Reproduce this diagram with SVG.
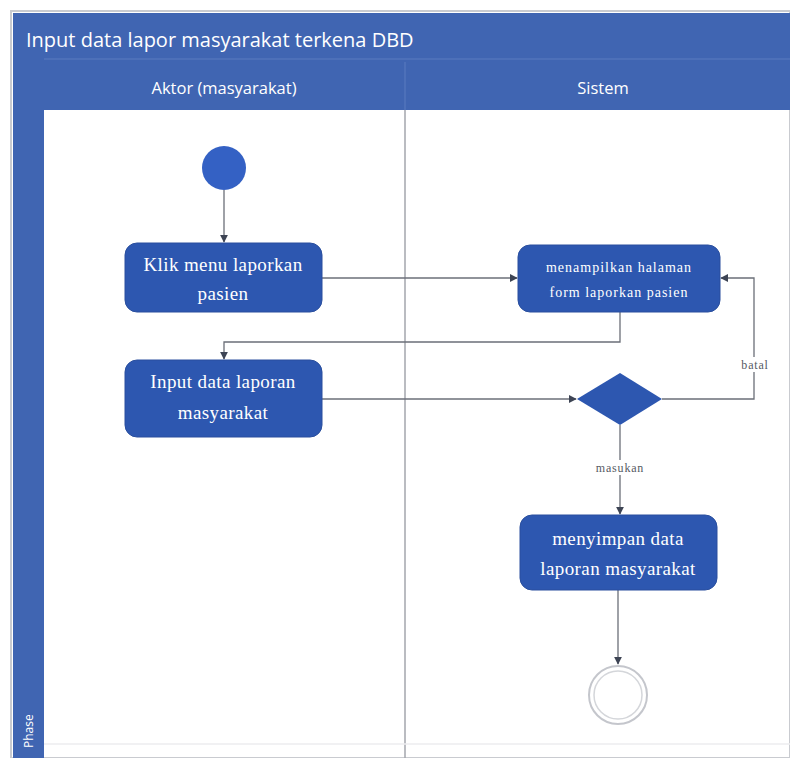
<svg xmlns="http://www.w3.org/2000/svg" width="790" height="758" viewBox="0 0 790 758">
  <style>
    .frame { fill: #4065b2; }
    .act { fill: #2d57b0; stroke: #2a4f9e; stroke-width: 1; }
    .act-text { font-family: "Liberation Serif", "Times New Roman", serif; font-size: 19px; letter-spacing: 0.4px; fill: #ffffff; text-anchor: middle; }
    .act-small { font-family: "Liberation Serif", "Times New Roman", serif; font-size: 14px; letter-spacing: 1px; fill: #ffffff; text-anchor: middle; }
    .hdr { font-family: "Open Sans", "DejaVu Sans", sans-serif; fill: #ffffff; }
    .flow { fill: none; stroke: #6b6f78; stroke-width: 1.3; }
    .guard { font-family: "Liberation Serif", "Times New Roman", serif; font-size: 12px; letter-spacing: 0.8px; fill: #555a63; text-anchor: middle; }
  </style>
  <defs>
    <marker id="arrow" viewBox="0 0 10 10" refX="9" refY="5" markerWidth="6" markerHeight="6" orient="auto-start-reverse">
      <path d="M0,0 L10,5 L0,10 z" fill="#3d4454"/>
    </marker>
  </defs>

  <rect x="0" y="0" width="790" height="758" fill="#ffffff"/>

  <!-- swimlane frame -->
  <g id="swimlane">
    <rect x="11" y="11" width="779" height="747" fill="none" stroke="#c9cbd0" stroke-width="2"/>
    <rect class="frame" x="13" y="13" width="777" height="97"/>
    <rect class="frame" x="13" y="13" width="31" height="745"/>
    <line x1="44" y1="59" x2="790" y2="59" stroke="#5a7cc0" stroke-width="1"/>
    <text class="hdr" x="26" y="47" font-size="20">Input data lapor masyarakat terkena DBD</text>
    <text class="hdr" x="224" y="94" font-size="16.5" text-anchor="middle">Aktor (masyarakat)</text>
    <text class="hdr" x="603" y="94" font-size="16.5" text-anchor="middle">Sistem</text>
    <line x1="405" y1="62" x2="405" y2="110" stroke="#5a7cc0" stroke-width="1"/>
    <line x1="405" y1="110" x2="405" y2="758" stroke="#a3a6ad" stroke-width="1.5"/>
    <line x1="44" y1="744" x2="790" y2="744" stroke="#ececef" stroke-width="1.5"/>
    <text class="hdr" x="0" y="0" font-size="12" transform="translate(33,748) rotate(-90)">Phase</text>
  </g>

  <!-- connectors -->
  <g id="connectors">
    <line class="flow" x1="224" y1="190" x2="224" y2="242" marker-end="url(#arrow)"/>
    <line class="flow" x1="322" y1="278" x2="517" y2="278" marker-end="url(#arrow)"/>
    <polyline class="flow" points="620,312 620,342 224,342 224,359" marker-end="url(#arrow)"/>
    <line class="flow" x1="322" y1="399" x2="576" y2="399" marker-end="url(#arrow)"/>
    <polyline class="flow" points="662,399 754,399 754,278 721,278" marker-end="url(#arrow)"/>
    <rect x="742" y="357" width="26" height="15" fill="#ffffff"/>
    <text class="guard" x="755" y="369">batal</text>
    <line class="flow" x1="620" y1="425" x2="620" y2="514" marker-end="url(#arrow)"/>
    <rect x="590" y="460" width="60" height="15" fill="#ffffff"/>
    <text class="guard" x="620" y="472">masukan</text>
    <line class="flow" x1="618" y1="590" x2="618" y2="664" marker-end="url(#arrow)"/>
  </g>

  <!-- nodes -->
  <g id="start">
    <circle cx="224" cy="168" r="22" fill="#3461c4"/>
  </g>

  <g id="klik-menu">
    <rect class="act" x="125" y="243" width="197" height="69" rx="12"/>
    <text class="act-text" x="223" y="271">Klik menu laporkan</text>
    <text class="act-text" x="223" y="300">pasien</text>
  </g>

  <g id="input-data">
    <rect class="act" x="125" y="360" width="197" height="77" rx="12"/>
    <text class="act-text" x="223" y="388">Input data laporan</text>
    <text class="act-text" x="223" y="419">masyarakat</text>
  </g>

  <g id="tampil-form">
    <rect class="act" x="518" y="245" width="202" height="67" rx="12"/>
    <text class="act-small" x="619" y="272">menampilkan halaman</text>
    <text class="act-small" x="619" y="297">form laporkan pasien</text>
  </g>

  <g id="keputusan">
    <polygon points="620,373 662,399 620,425 577,399" fill="#2d57b0"/>
  </g>

  <g id="simpan-data">
    <rect class="act" x="520" y="515" width="197" height="75" rx="12"/>
    <text class="act-text" x="618" y="545">menyimpan data</text>
    <text class="act-text" x="618" y="575">laporan masyarakat</text>
  </g>

  <g id="end">
    <circle cx="618" cy="695" r="29" fill="#ffffff" stroke="#c4c6cc" stroke-width="2"/>
    <circle cx="618" cy="695" r="24" fill="#ffffff" stroke="#d4d6da" stroke-width="1.5"/>
  </g>
</svg>
